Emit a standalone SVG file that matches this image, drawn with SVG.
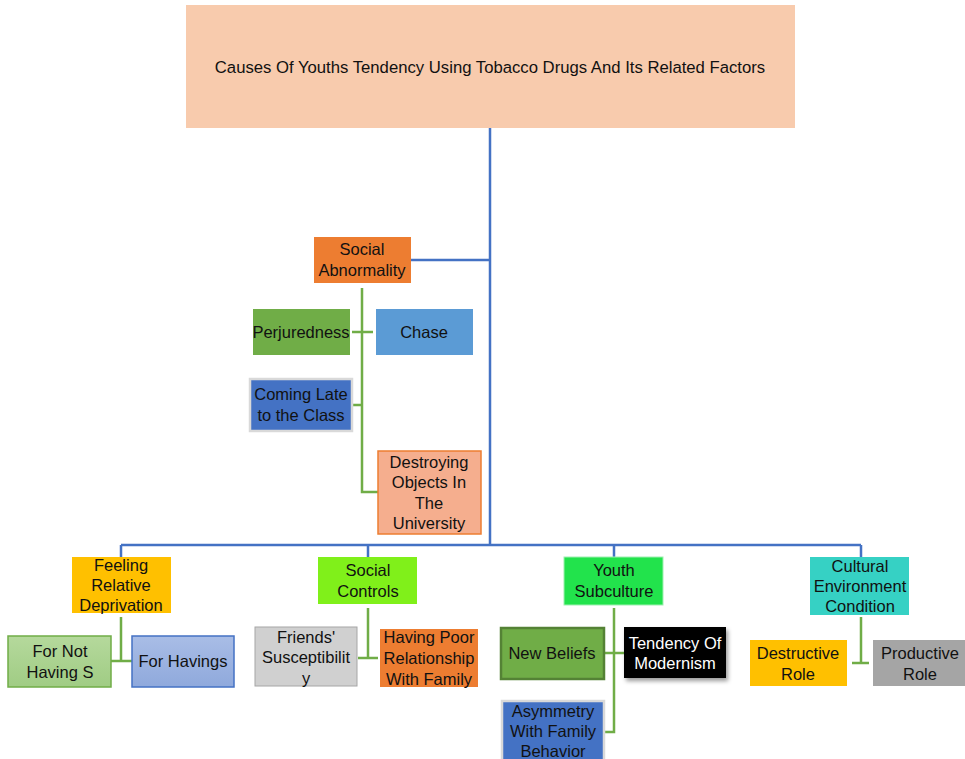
<svg xmlns="http://www.w3.org/2000/svg" width="965" height="759" viewBox="0 0 965 759">
<defs>
<linearGradient id="gGreen" x1="0" y1="0" x2="0" y2="1"><stop offset="0" stop-color="#b5d99c"/><stop offset="1" stop-color="#a0cc84"/></linearGradient>
<linearGradient id="gBlue" x1="0" y1="0" x2="0" y2="1"><stop offset="0" stop-color="#a9bde6"/><stop offset="1" stop-color="#8fa9dc"/></linearGradient>
<filter id="shadow" x="-10%" y="-10%" width="130%" height="140%"><feDropShadow dx="2" dy="3" stdDeviation="2" flood-color="#000" flood-opacity="0.4"/></filter>
</defs>
<style>
text{font-family:"Liberation Sans",Arial,sans-serif;font-size:16.5px;fill:#111;text-anchor:middle}
.blue{stroke:#4472c4;stroke-width:2.5;fill:none}
.green{stroke:#70ad47;stroke-width:2.5;fill:none}
</style>
<rect width="965" height="759" fill="#fff"/>
<g id="connectors">
<path class="blue" d="M490,128 V545 M410,260 H490 M121,545 H861 M121,545 V557 M368,545 V557 M614,545 V557 M861,545 V557"/>
<path class="green" d="M362,288 V492 H378 M352,332 H373 M352,405 H362"/>
<path class="green" d="M121,617 V661 M111,661 H132"/>
<path class="green" d="M368,608 V658 M358,658 H378"/>
<path class="green" d="M614,608 V732 H604 M604,653 H624"/>
<path class="green" d="M861,617 V663 M852,663 H869"/>
</g>
<g id="title"><rect x="186" y="5" width="609" height="123" fill="#f8cbad"/><text x="490" y="73" style="font-size:16.7px">Causes Of Youths Tendency Using Tobacco Drugs And Its Related Factors</text></g>
<g id="social-abnormality"><rect x="314" y="237" width="97" height="46" fill="#ed7d31"/><text x="362" y="255">Social</text><text x="362" y="276">Abnormality</text></g>
<g id="perjuredness"><rect x="253" y="309" width="97" height="46" fill="#70ad47"/><text x="301" y="338">Perjuredness</text></g>
<g id="chase"><rect x="376" y="309" width="97" height="46" fill="#5b9bd5"/><text x="424" y="338">Chase</text></g>
<g id="coming-late"><rect x="250" y="379" width="102" height="52" fill="#4472c4" stroke="#d9d9d9" stroke-width="2.5"/><text x="301" y="400">Coming Late</text><text x="301" y="421">to the Class</text></g>
<g id="destroying"><rect x="378" y="451" width="103" height="83" fill="#f5ae8e" stroke="#ed7d31" stroke-width="1.5"/><text x="429" y="468">Destroying</text><text x="429" y="488">Objects In</text><text x="429" y="509">The</text><text x="429" y="529">University</text></g>
<g id="feeling"><rect x="72" y="557" width="99" height="56" fill="#ffc000"/><text x="121" y="571">Feeling</text><text x="121" y="591">Relative</text><text x="121" y="611">Deprivation</text></g>
<g id="for-not-having"><rect x="8" y="636" width="103" height="51" fill="url(#gGreen)" stroke="#70ad47" stroke-width="1.5"/><text x="60" y="657">For Not</text><text x="60" y="678">Having S</text></g>
<g id="for-havings"><rect x="132" y="636" width="102" height="51" fill="url(#gBlue)" stroke="#4472c4" stroke-width="1.5"/><text x="183" y="667">For Havings</text></g>
<g id="social-controls"><rect x="318" y="557" width="99" height="47" fill="#80f01a"/><text x="368" y="576">Social</text><text x="368" y="597">Controls</text></g>
<g id="friends"><rect x="255" y="627" width="102" height="59" fill="#d0d0d0" stroke="#a6a6a6" stroke-width="1"/><text x="306" y="643">Friends'</text><text x="306" y="663">Susceptibilit</text><text x="306" y="684">y</text></g>
<g id="poor-relationship"><rect x="380" y="629" width="98" height="58" fill="#ed7d31"/><text x="429" y="643">Having Poor</text><text x="429" y="664">Relationship</text><text x="429" y="685">With Family</text></g>
<g id="youth-subculture"><rect x="564" y="557" width="99" height="48" fill="#22e34c" stroke="#9ef0b0" stroke-width="1"/><text x="614" y="576">Youth</text><text x="614" y="597">Subculture</text></g>
<g id="new-beliefs"><rect x="501" y="628" width="103" height="51" fill="#70ad47" stroke="#548235" stroke-width="2.5"/><text x="552" y="659">New Beliefs</text></g>
<g id="modernism"><rect x="624" y="627" width="102" height="51" fill="#000" filter="url(#shadow)"/><text x="675" y="649" style="fill:#fff">Tendency Of</text><text x="675" y="669" style="fill:#fff">Modernism</text></g>
<g id="asymmetry"><rect x="502" y="701" width="102" height="62" fill="#4472c4" stroke="#d9d9d9" stroke-width="2.5"/><text x="553" y="717">Asymmetry</text><text x="553" y="737">With Family</text><text x="553" y="757">Behavior</text></g>
<g id="cultural"><rect x="810" y="557" width="99" height="58" fill="#36d1c4"/><text x="860" y="572">Cultural</text><text x="860" y="592">Environment</text><text x="860" y="612">Condition</text></g>
<g id="destructive"><rect x="750" y="640" width="97" height="46" fill="#ffc000"/><text x="798" y="659">Destructive</text><text x="798" y="680">Role</text></g>
<g id="productive"><rect x="873" y="640" width="92" height="46" fill="#a5a5a5"/><text x="920" y="659">Productive</text><text x="920" y="680">Role</text></g>
</svg>
